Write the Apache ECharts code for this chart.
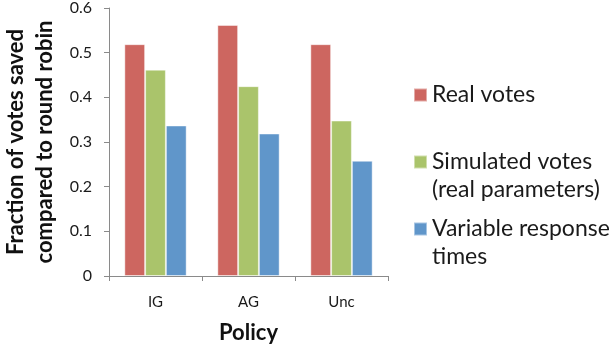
<!DOCTYPE html>
<html>
<head>
<meta charset="utf-8">
<script src="https://cdn.jsdelivr.net/npm/echarts@6/dist/echarts.min.js"></script>
<style>
  html, body { margin: 0; padding: 0; background: #fff; }
  #chart { width: 611px; height: 349px; }
</style>
</head>
<body>
<div id="chart"></div>
<script>
// Policies on the x axis
const policies = ['IG', 'AG', 'Unc'];

// Fraction of votes saved compared to round robin, per policy
const realVotes = [0.519, 0.562, 0.519];
const simulatedVotes = [0.462, 0.425, 0.348];
const variableResponse = [0.337, 0.319, 0.258];

const seriesNames = ['Real votes', 'Simulated votes (real parameters)', 'Variable response times'];
// Legend wording, broken over lines
const legendLabels = ['Real votes', 'Simulated votes\n(real parameters)', 'Variable response\ntimes'];

const yTicks = { min: 0, max: 0.6, step: 0.1 };

const colors = ['#cd6660', '#aac46b', '#6096ca'];
const textFont = 'Lato, "Open Sans", sans-serif';
const axisGray = '#8a8a8a';

const chart = echarts.init(document.getElementById('chart'), null, { renderer: 'canvas' });

// One legend block per series so each can sit at its own height;
// a leading blank line keeps the swatch beside the first text line.
const legendTops = [81, 120, 187];
const legends = seriesNames.map((name, i) => ({
  data: [name],
  orient: 'vertical',
  left: 413,
  top: legendTops[i],
  padding: 0,
  itemWidth: 13,
  itemHeight: 13,
  icon: 'rect',
  selectedMode: false,
  formatter: () => (legendLabels[i].includes('\n') ? '\n' : '') + legendLabels[i],
  textStyle: { fontFamily: textFont, fontSize: 23, lineHeight: 28, color: '#1a1a1a' }
}));

const seriesData = [realVotes, simulatedVotes, variableResponse];

chart.setOption({
  animation: false,
  backgroundColor: '#ffffff',
  color: colors,
  legend: legends,
  grid: { left: 108, right: 223, top: 7, bottom: 69, containLabel: false },
  xAxis: {
    type: 'category',
    data: policies,
    name: 'Policy',
    nameLocation: 'middle',
    nameGap: 46,
    nameTextStyle: { fontFamily: textFont, fontSize: 22, fontWeight: 'bold', color: '#111' },
    axisLine: { lineStyle: { color: axisGray, width: 1 } },
    axisTick: { show: true, length: 5, lineStyle: { color: axisGray } },
    axisLabel: { fontFamily: textFont, fontSize: 15, color: '#1a1a1a', margin: 19 },
    splitLine: { show: false }
  },
  yAxis: {
    type: 'value',
    min: yTicks.min,
    max: yTicks.max,
    interval: yTicks.step,
    name: 'Fraction of votes saved\ncompared to round robin',
    nameLocation: 'middle',
    nameGap: 50,
    nameTextStyle: { fontFamily: textFont, fontSize: 22, fontWeight: 'bold', color: '#111', lineHeight: 29 },
    axisLine: { show: true, lineStyle: { color: axisGray, width: 1 } },
    axisTick: { show: true, length: 5, lineStyle: { color: axisGray } },
    axisLabel: { fontFamily: textFont, fontSize: 16, color: '#1a1a1a', margin: 17 },
    splitLine: { show: false }
  },
  series: seriesNames.map((name, i) => ({
    name,
    type: 'bar',
    data: seriesData[i],
    barGap: '0%',
    barCategoryGap: '33%',
    itemStyle: { borderColor: 'rgba(255,255,255,0.45)', borderWidth: 1 }
  }))
});
</script>
</body>
</html>
